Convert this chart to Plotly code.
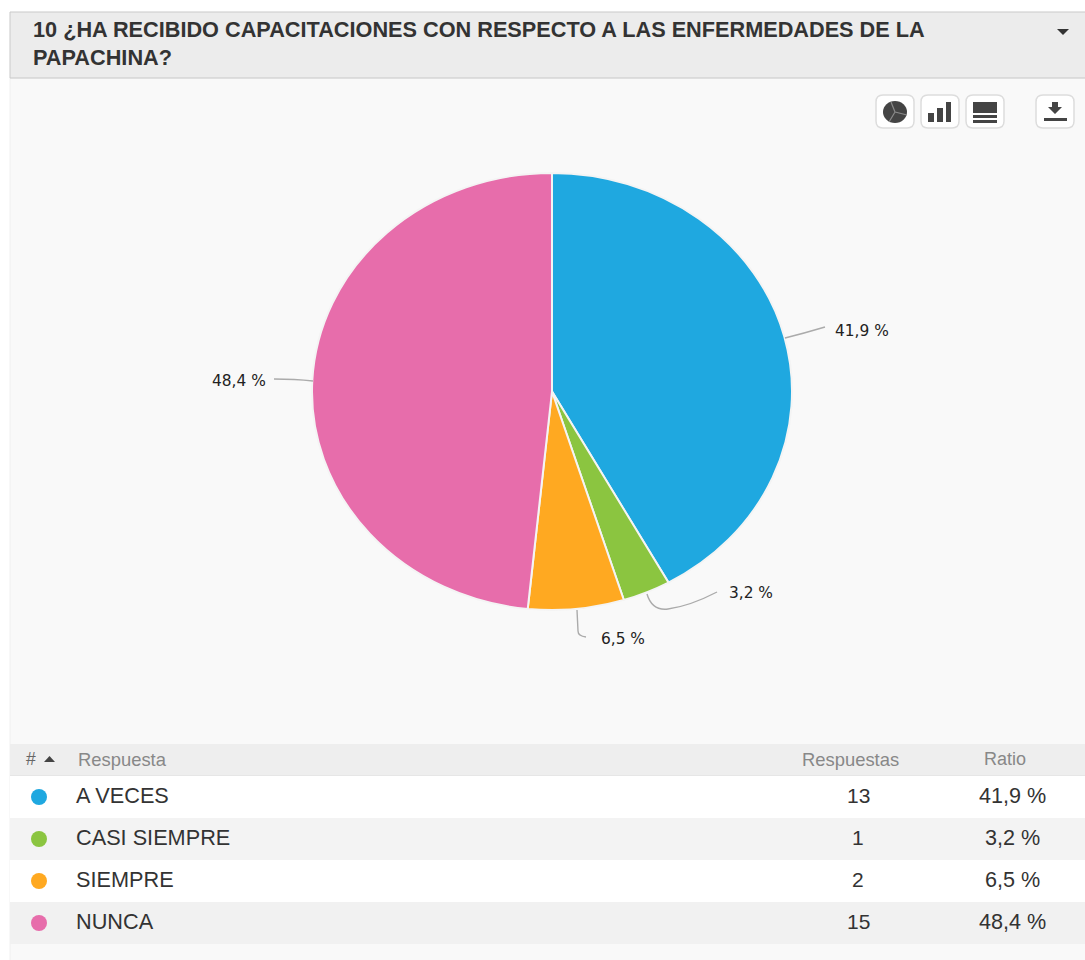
import plotly.graph_objects as go

# Survey results
categories = ["A VECES", "CASI SIEMPRE", "SIEMPRE", "NUNCA"]
responses = [13, 1, 2, 15]
colors = ["#1FA8E0", "#8BC540", "#FFA921", "#E76DAB"]
title_lines = ["10 ¿HA RECIBIDO CAPACITACIONES CON RESPECTO A LAS ENFERMEDADES DE LA", "PAPACHINA?"]
table_headers = ["Respuesta", "Respuestas", "Ratio"]

W, H = 1085, 960
total = sum(responses)
ratio_text = [f"{v / total * 100:.1f} %".replace(".", ",") for v in responses]

# Pixel geometry of the page
PIE_LEFT, PIE_RIGHT = 312, 792
PIE_TOP, PIE_BOTTOM = 173, 610
pie_cx = (PIE_LEFT + PIE_RIGHT) / 2
pie_cy = (PIE_TOP + PIE_BOTTOM) / 2
pie_r = (PIE_RIGHT - PIE_LEFT) / 2
row_tops = [776, 818, 860, 902]
row_height = 42
row_fills = ["#FFFFFF", "#F3F3F3", "#FFFFFF", "#F1F1F1"]
label_pos = [(833, 331), (727, 593), (599, 639), (210, 381)]
leader_paths = [
    "M 785 338 Q 805 333 825 327",
    "M 647 594 Q 652 611 668 609 Q 690 606 717 592",
    "M 577 610 L 578 631 Q 578 636 586 637",
    "M 313 381 Q 295 379 274 379",
]

fig = go.Figure()

# Response share pie; the vertical squash is applied after drawing
fig.add_trace(go.Pie(
    labels=categories,
    values=responses,
    sort=False,
    direction="clockwise",
    rotation=0,
    textinfo="none",
    hoverinfo="label+percent",
    showlegend=False,
    marker=dict(colors=colors, line=dict(color="#F4F4F4", width=2)),
    domain=dict(
        x=[PIE_LEFT / W, PIE_RIGHT / W],
        y=[1 - (pie_cy + pie_r) / H, 1 - (pie_cy - pie_r) / H],
    ),
))

# Colour dots of the table
fig.add_trace(go.Scatter(
    x=[39] * len(categories),
    y=[t + 21 for t in row_tops],
    mode="markers",
    marker=dict(color=colors, size=16, line=dict(width=0)),
    hoverinfo="skip",
    showlegend=False,
))

shapes = []


def rect(x0, y0, x1, y1, fill, line=None, layer="below"):
    shapes.append(dict(type="rect", x0=x0, y0=y0, x1=x1, y1=y1, fillcolor=fill, layer=layer,
                       line=dict(width=1 if line else 0, color=line or fill)))


def path(d, fill=None, line=None, width=1.5):
    shapes.append(dict(type="path", path=d, fillcolor=fill or "rgba(0,0,0,0)", layer="above",
                       line=dict(width=width if line else 0, color=line or "rgba(0,0,0,0)")))


def button(x0, y0, x1, y1, r=7):
    path(f"M {x0 + r} {y0} L {x1 - r} {y0} Q {x1} {y0} {x1} {y0 + r} L {x1} {y1 - r} Q {x1} {y1} {x1 - r} {y1} "
         f"L {x0 + r} {y1} Q {x0} {y1} {x0} {y1 - r} L {x0} {y0 + r} Q {x0} {y0} {x0 + r} {y0} Z",
         fill="#FFFFFF", line="#DDDDDD", width=1.5)


# Panel, header bar and table bands
rect(10, 78, W + 2, H + 2, "#F9F9F9", "#F0F0F0")
rect(10, 12, W + 2, 78, "#ECECEC", "#C9C9C9")
rect(10, 744, W + 2, 776, "#EEEEEE")
shapes.append(dict(type="line", x0=10, x1=W, y0=776, y1=776, layer="below", line=dict(color="#DEDEDE", width=1)))
for top, fill in zip(row_tops, row_fills):
    rect(10, top, W + 2, top + row_height, fill)

# Toolbar buttons
for x0, x1 in [(876, 914), (921, 959), (966, 1004), (1036, 1074)]:
    button(x0, 95, x1, 128)

ICON = "#444444"
shapes.append(dict(type="circle", x0=883, x1=907, y0=101, y1=123, fillcolor=ICON, layer="above", line=dict(width=0)))
path("M 895 112 L 891 102 M 895 112 L 907 115 M 895 112 L 889 122", line="#8A8A8A", width=1.2)
for x0, y0, x1 in [(928, 113, 934), (937, 108, 943), (946, 102, 951)]:
    rect(x0, y0, x1, 122, ICON, layer="above")
for y0, y1 in [(102, 113), (115, 118), (120, 123)]:
    rect(973, y0, 997, y1, ICON, layer="above")
path("M 1052 102 L 1058 102 L 1058 107 L 1062 107 L 1055 114 L 1048 107 L 1052 107 Z", fill=ICON)
rect(1044, 118, 1067, 121, ICON, layer="above")

# Collapse caret and sort marker
path("M 1057 29 L 1069 29 L 1063 35 Z", fill="#333333")
path("M 44 762 L 55 762 L 49.5 756 Z", fill="#444444")

# Leader lines from the slices to their labels
for d in leader_paths:
    path(d, line="#ABABAB", width=1.4)

annotations = []


def text(x, y, s, size, color="#333333", anchor="left", bold=False, family="Liberation Sans"):
    annotations.append(dict(
        x=x, y=y, xref="x", yref="y", text=f"<b>{s}</b>" if bold else s, showarrow=False,
        xanchor=anchor, yanchor="middle", align=anchor,
        font=dict(family=family, size=size, color=color),
    ))


# Title, in two lines
text(31, 29, title_lines[0], 21.7, bold=True)
text(31, 57, title_lines[1], 21.7, bold=True)

# Slice labels
for (x, y), s in zip(label_pos, ratio_text):
    text(x, y, s, 15.4, color="#222222", family="DejaVu Sans")

# Table header
text(24, 759, "#", 17.5, color="#666666")
text(76, 759, table_headers[0], 18.4, color="#888888")
text(850, 759, table_headers[1], 18.4, color="#888888", anchor="center")
text(1005, 759, table_headers[2], 18, color="#888888", anchor="center")

# Table rows
for top, name, count, ratio in zip(row_tops, categories, responses, ratio_text):
    mid = top + 19
    text(74, mid, name, 21.7)
    text(858, mid, str(count), 21, anchor="center")
    text(1012, mid, ratio, 21.6, anchor="center")

fig.update_layout(
    width=W,
    height=H,
    autosize=False,
    margin=dict(l=0, r=0, t=0, b=0),
    paper_bgcolor="#FFFFFF",
    plot_bgcolor="rgba(0,0,0,0)",
    xaxis=dict(range=[0, W], visible=False, fixedrange=True, domain=[0, 1]),
    yaxis=dict(range=[H, 0], visible=False, fixedrange=True, domain=[0, 1]),
    shapes=shapes,
    annotations=annotations,
)

# Squash the pie vertically around its centre, so it reads as an ellipse
scale_y = (PIE_BOTTOM - PIE_TOP) / (PIE_RIGHT - PIE_LEFT)
post_script = f"""
var gd = document.getElementById('{{plot_id}}');
var squash = function() {{
  var layer = gd.querySelector('.pielayer');
  if (layer) layer.setAttribute('transform',
    'translate(0,{pie_cy}) scale(1,{scale_y}) translate(0,{-pie_cy})');
}};
squash();
gd.on('plotly_afterplot', squash);
"""

fig.write_html("out.html", config=dict(displayModeBar=False), post_script=post_script)
